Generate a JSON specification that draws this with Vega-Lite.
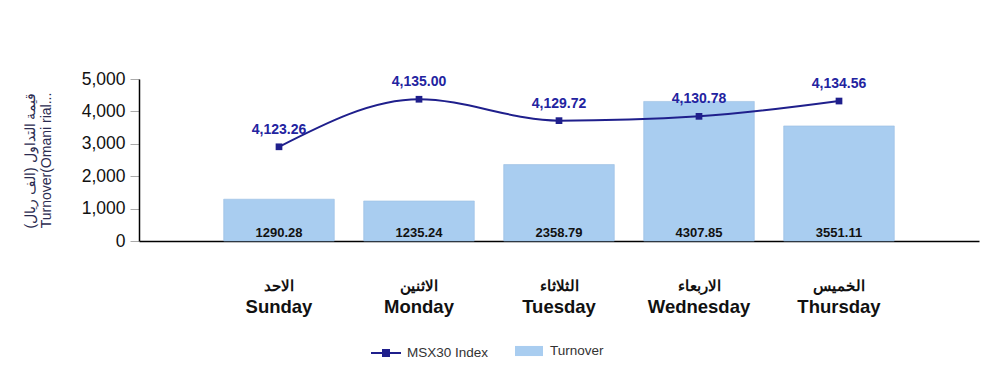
{
  "$schema": "https://vega.github.io/schema/vega-lite/v6.json",
  "width": 840,
  "height": 162,
  "autosize": {"type": "none"},
  "padding": {"left": 139, "top": 79, "right": 21, "bottom": 148},
  "background": "white",
  "config": {
    "view": {"stroke": null},
    "font": "Liberation Sans",
    "axisY": {
      "titleFontSize": 14, "titleFontWeight": "normal", "titleColor": "#2b2b50",
      "titlePadding": 28, "titleLineHeight": 16,
      "labelOverlap": false, "labelFlush": false,
      "labelFontSize": 17.5, "labelColor": "#111", "labelPadding": 5,
      "tickColor": "#aaa", "tickSize": 9, "grid": false,
      "domainColor": "#000", "domainWidth": 1.5
    }
  },
  "data": {
    "values": [
      {"day": "Sunday", "turnover": 1290.28, "index": 4123.26},
      {"day": "Monday", "turnover": 1235.24, "index": 4135.00},
      {"day": "Tuesday", "turnover": 2358.79, "index": 4129.72},
      {"day": "Wednesday", "turnover": 4307.85, "index": 4130.78},
      {"day": "Thursday", "turnover": 3551.11, "index": 4134.56}
    ]
  },
  "layer": [
    {
      "layer": [
        {
          "mark": {"type": "bar", "stroke": "#98bde2", "strokeWidth": 0.6},
          "encoding": {
            "x": {
              "field": "day", "type": "nominal", "sort": null,
              "scale": {"paddingInner": 0.21, "paddingOuter": 0.605},
              "axis": {
                "orient": "bottom", "title": null, "ticks": false,
                "domain": true, "domainColor": "#000", "domainWidth": 1.5,
                "labelFont": "Liberation Sans", "labelFontWeight": "bold",
                "labelFontSize": 18.5, "labelColor": "#111", "labelPadding": 56,
                "labelAngle": 0
              }
            },
            "y": {
              "field": "turnover", "type": "quantitative",
              "scale": {"domain": [0, 5000]},
              "axis": {
                "orient": "left",
                "title": ["قيمة التداول (الف ريال)", "Turnover(Omani rial..."],
                "values": [0, 1000, 2000, 3000, 4000, 5000], "format": ",.0f"
              }
            },
            "fill": {
              "datum": "Turnover",
              "scale": {"domain": ["Turnover"], "range": ["#a9cdf0"]},
              "legend": {
                "title": null, "orient": "none", "direction": "horizontal",
                "legendX": 376, "legendY": 258,
                "labelFontSize": 13.5, "labelColor": "#333", "labelOffset": 7,
                "symbolSize": 784, "symbolType": "M-1,-0.36H1V0.36H-1Z",
                "symbolStrokeWidth": 0
              }
            }
          }
        },
        {
          "mark": {"type": "text", "fontWeight": "bold", "fontSize": 13, "dy": -8, "color": "#111"},
          "encoding": {
            "x": {"field": "day", "type": "nominal", "sort": null},
            "y": {
              "datum": 0, "type": "quantitative",
              "axis": {
                "orient": "left",
                "title": ["قيمة التداول (الف ريال)", "Turnover(Omani rial..."],
                "values": [0, 1000, 2000, 3000, 4000, 5000], "format": ",.0f"
              }
            },
            "text": {"field": "turnover", "type": "quantitative", "format": ".2f"}
          }
        }
      ]
    },
    {
      "encoding": {
        "x": {
          "field": "day", "type": "nominal", "sort": null,
          "axis": {
            "orient": "bottom", "title": null, "ticks": false, "domain": false,
            "labelFontWeight": "bold", "labelFontSize": 15, "labelColor": "#111",
            "labelPadding": 37, "labelAngle": 0,
            "labelExpr": "{'Sunday': 'الاحد', 'Monday': 'الاثنين', 'Tuesday': 'الثلاثاء', 'Wednesday': 'الاربعاء', 'Thursday': 'الخميس'}[datum.value]"
          }
        },
        "y": {
          "field": "index", "type": "quantitative",
          "scale": {"domain": [4100, 4140]},
          "axis": null
        }
      },
      "layer": [
        {
          "mark": {"type": "line", "interpolate": "monotone", "strokeWidth": 2},
          "encoding": {
            "stroke": {
              "datum": "MSX30 Index",
              "scale": {"domain": ["MSX30 Index"], "range": ["#1f1f8c"]},
              "legend": {
                "title": null, "orient": "none", "direction": "horizontal",
                "legendX": 231, "legendY": 258,
                "labelFontSize": 13.5, "labelColor": "#333", "labelOffset": 5,
                "symbolSize": 900, "symbolType": "M-1,0H1M-0.2,-0.2H0.2V0.2H-0.2Z",
                "symbolStrokeWidth": 2, "symbolFillColor": "#1f1f8c", "symbolStrokeColor": "#1f1f8c"
              }
            }
          }
        },
        {
          "mark": {"type": "point", "shape": "square", "filled": true, "size": 45, "color": "#1f1f8c", "opacity": 1}
        },
        {
          "mark": {"type": "text", "fontWeight": "bold", "fontSize": 14, "dy": -17, "color": "#2323a0"},
          "encoding": {"text": {"field": "index", "type": "quantitative", "format": ",.2f"}}
        }
      ]
    }
  ],
  "resolve": {"scale": {"y": "independent"}, "axis": {"x": "independent"}}
}
